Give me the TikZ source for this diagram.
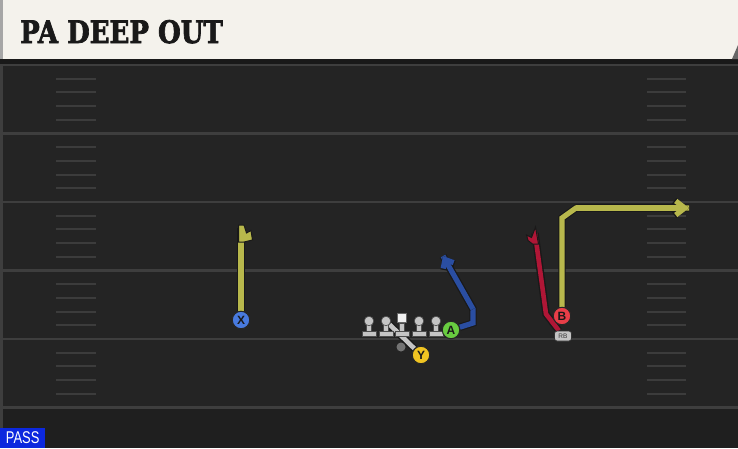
\documentclass[tikz,border=0pt]{standalone}
\usepackage{fontspec}
\usetikzlibrary{calc,positioning,arrows.meta,backgrounds}
\newfontfamily\titlefont[BoldFeatures={FakeBold=2.5}]{DejaVu Serif}
\newfontfamily\tagfont{Liberation Sans}
\definecolor{turf}{RGB}{36,36,36}
\definecolor{turflow}{RGB}{31,31,31}
\definecolor{yardc}{RGB}{62,62,62}
\definecolor{hashc}{RGB}{60,60,60}
\definecolor{paper}{RGB}{244,242,236}
\definecolor{routey}{RGB}{184,184,76}
\definecolor{routeb}{RGB}{42,78,162}
\definecolor{router}{RGB}{176,22,54}
\definecolor{blockc}{RGB}{196,196,196}
\definecolor{playx}{RGB}{72,122,222}
\definecolor{playa}{RGB}{104,204,64}
\definecolor{playb}{RGB}{232,62,72}
\definecolor{playy}{RGB}{240,196,34}
\definecolor{passc}{RGB}{12,40,222}
\def\ys{68.5}
\def\yt{65}

\begin{document}
\begin{tikzpicture}
    [
        x=1pt, y=-1pt,
        yard/.style={yardc, line width=2.2pt},
        hash/.style={hashc, line width=2pt},
        player/.style={circle, draw=black!85, line width=1pt, minimum size=17.5pt,
            inner sep=0pt, text=black!90, font=\tagfont\bfseries\fontsize{12}{12}\selectfont},
        olhead/.style={circle, fill=blockc, draw=black!70, line width=0.6pt, minimum size=9.5pt, inner sep=0pt},
        olbody/.style={fill=blockc, draw=black!70, line width=0.6pt},
        route/.style={line width=5.2pt, preaction={draw=black!90, line width=7.4pt}},
        tipflag/.style={draw=black!90, line width=1pt}
    ]
    \useasboundingbox (0,0) rectangle (738,448);

    % field
    \begin{scope}[on background layer]
        \fill[turf] (0,0) rectangle (738,448);
        \fill[turflow] (0,409) rectangle (738,448);
        \fill[yardc] (0,64) rectangle (2.5,428);
        \foreach \k in {0,...,5}
            \draw[yard] (0,{\yt+\k*\ys}) -- (738,{\yt+\k*\ys});
        \foreach \k in {0,...,4}
        {
            \foreach \j in {1,...,4}
            {
                \draw[hash] (56,{\yt+\k*\ys+\j*\ys/5}) -- (96,{\yt+\k*\ys+\j*\ys/5});
                \draw[hash] (647,{\yt+\k*\ys+\j*\ys/5}) -- (686,{\yt+\k*\ys+\j*\ys/5});
            }
        }
        % title bar
        \fill[black!90] (0,58) rectangle (738,64);
        \fill[paper] (3,0) rectangle (738,59);
        \fill[black!35] (0,0) rectangle (3,59);
        \fill[black!60] (732,59) -- (738,45) -- (738,59) -- cycle;
    \end{scope}

    \node[anchor=base west, inner sep=0pt, text=black!90,
        font=\titlefont\bfseries\fontsize{31}{31}\selectfont] (title) at (20,43)
        {\scalebox{0.84}[1]{PA DEEP OUT}};

    \node[anchor=south west, fill=passc, text=white, minimum width=45pt, minimum height=20pt,
        inner sep=0pt, font=\tagfont\fontsize{17}{17}\selectfont] (playtype) at (0,448)
        {\scalebox{0.76}[1]{PASS}};

    % offensive line
    \foreach \name/\x in {lt/369, lg/386, c/402, rg/419, rt/436}
    {
        \filldraw[olbody] (\x-2.5,323) rectangle (\x+2.5,332);
        \filldraw[olbody] (\x-7,331.5) rectangle (\x+7,336);
    }
    \foreach \name/\x in {lt/369, lg/386, rg/419, rt/436}
        \node[olhead] (\name) at (\x,321) {};
    \node[fill=white!94!black, draw=black!60, line width=0.6pt, minimum size=9pt, inner sep=0pt] (c) at (402,318) {};
    \fill[black!55] (401,347) circle (4.5);
    \coordinate (qb) at (401,347);

    % skill players
    \node[player, fill=playx] (x) at (241,320) {X};
    \node[player, fill=playa] (a) at (451,330) {A};
    \node[player, fill=playb] (b) at (562,316) {B};
    \node[player, fill=playy] (y) at (421,355) {Y};
    \node[rounded corners=2.5pt, fill=blockc, draw=black!80, line width=0.8pt, minimum width=17pt,
        minimum height=10pt, inner sep=0pt, text=black!80,
        font=\tagfont\fontsize{6.5}{6.5}\selectfont] (rb) at (563,336) {RB};

    \coordinate (xstop) at (241,228);
    \coordinate (abreak) at (473,323);
    \coordinate (aup) at (473,309);
    \coordinate (aend) at (443,256);
    \coordinate (bcut) at (562,218);
    \coordinate (bbreak) at (576,208);
    \coordinate (bend) at (689,208);
    \coordinate (rbbend) at (546,314);
    \coordinate (rbstop) at (535,233);

    % routes
    \begin{scope}[on background layer]
        \draw[route, routey] (x) -- (xstop);
        \filldraw[routey, tipflag] (238.5,225) -- (244,225) -- (246.5,233) -- (251,230.5)
            -- (252.5,240) -- (244,242) -- (238.5,242) -- cycle;
        \draw[route, routey] (b) -- (bcut) -- (bbreak) -- (bend);
        \draw[route, routey, -{Straight Barb[length=9pt, width=14pt]}] (bbreak) -- (bend);
        \draw[route, routeb, line join=miter] (a) -- (abreak) -- (aup) -- (aend);
        \draw[route, routeb, -{Straight Barb[length=7pt, width=12pt]}] (aup) -- (aend);
        \draw[route, router, line width=4.6pt] (rb) -- (rbbend) -- (rbstop);
        \filldraw[router, tipflag] (535.5,227) -- (538.5,244) -- (532.5,244) -- (528,240.5)
            -- (526.5,235) -- (531.5,237.5) -- cycle;
        \draw[route, blockc, line width=4.6pt] (y) -- (lg);
    \end{scope}
\end{tikzpicture}
\end{document}
